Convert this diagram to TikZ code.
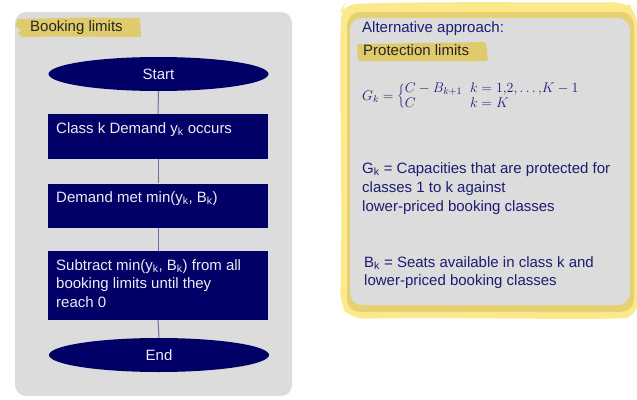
\documentclass[tikz,border=0pt]{standalone}
\usepackage{fix-cm}
\usepackage{fontspec}
\setmainfont{Liberation Sans}
\usetikzlibrary{shapes.geometric}
\definecolor{panelgray}{HTML}{DCDCDC}
\definecolor{navyfill}{HTML}{000066}
\definecolor{boxtextc}{HTML}{ECECF4}
\definecolor{linkc}{HTML}{6E6EA4}
\definecolor{hiyellow}{HTML}{DFCB6C}
\definecolor{lightyellow}{HTML}{FCE98C}
\definecolor{darkyellow}{HTML}{E6D072}
\definecolor{navytext}{HTML}{1C1C72}
\tikzset{
  flowbox/.style={draw=none, fill=navyfill, rectangle, minimum width=220pt, inner sep=0pt},
  terminal/.style={ellipse, fill=navyfill, minimum width=220pt, minimum height=34pt, inner sep=0pt, text=boxtextc, font=\fontsize{15}{18}\selectfont},
  boxtext/.style={anchor=base west, inner sep=0pt, text=boxtextc, font=\fontsize{15}{18}\selectfont},
  righttext/.style={anchor=base west, inner sep=0pt, text=navytext, font=\fontsize{15}{18}\selectfont},
  link/.style={draw=linkc, line width=1pt}
}
\begin{document}
\begin{tikzpicture}[x=1pt,y=-1pt]
\useasboundingbox (0,0) rectangle (637,399);
% left panel
\fill[panelgray, rounded corners=11pt] (15,12) rectangle (292,396);
% booking limits highlight
\fill[hiyellow] (18,19) -- (80,17.5) -- (140,18) -- (141,37) -- (60,36.5) -- (22,37) -- (18,33) -- (21,30) -- (15,26) -- cycle;
\node[anchor=base west, inner sep=0pt, text=black!85, font=\fontsize{15}{18}\selectfont] (bl) at (30,31.5) {Booking limits};
% flow nodes
\node[terminal] (start) at (158.5,74) {Start};
\node[flowbox, minimum height=45pt] (b1) at (158,136.5) {};
\node[flowbox, minimum height=44pt] (b2) at (158,205.5) {};
\node[flowbox, minimum height=69pt] (b3) at (158,285.5) {};
\node[terminal] (end) at (159,355) {End};
\draw[link] (start.south) -- (b1.north);
\draw[link] (b1.south) -- (b2.north);
\draw[link] (b2.south) -- (b3.north);
\draw[link] (b3.south) -- (end.north);
\node[boxtext] (t1) at (56,133) {Class k Demand y\textsubscript{k} occurs};
\node[boxtext] (t2) at (56,202) {Demand met min(y\textsubscript{k}, B\textsubscript{k})};
\node[boxtext] (t3a) at (56,270) {Subtract min(y\textsubscript{k}, B\textsubscript{k}) from all};
\node[boxtext] (t3b) at (56,288.5) {booking limits until they};
\node[boxtext] (t3c) at (56,307) {reach 0};
% right panel
\fill[lightyellow, rounded corners=14pt] (344,4) .. controls (450,1) and (560,3) .. (625,2) -- (637,10) -- (637,318) .. controls (560,320) and (450,317) .. (350,319) -- (340,305) .. controls (343,200) and (339,100) .. (341,10) -- cycle;
\fill[darkyellow, rounded corners=13pt] (347,12) rectangle (634,312);
\fill[panelgray, rounded corners=12pt] (350,18) rectangle (630,305);
\fill[hiyellow, rounded corners=2pt] (357,44) -- (486,42) -- (488,61) -- (358,61) -- cycle;
\node[righttext] (alt) at (362,32) {Alternative approach:};
\node[righttext, text=black!85] (prot) at (363,55) {Protection limits};
\node[anchor=west, inner sep=0pt, text=navytext, font=\fontsize{14}{15}\selectfont] (formula) at (362,96.5)
  {$G_k=\biggl\{\begin{array}{@{}l@{\ \;}l@{}} C-B_{k+1} & k=1{,}2{,}\ldots{,}K-1\\ C & k=K\end{array}$};
\node[righttext] (g1) at (362,173) {G\textsubscript{k} = Capacities that are protected for};
\node[righttext] (g2) at (362,192) {classes 1 to k against};
\node[righttext] (g3) at (362,211) {lower-priced booking classes};
\node[righttext] (s1) at (364,267) {B\textsubscript{k} = Seats available in class k and};
\node[righttext] (s2) at (364,285) {lower-priced booking classes};
\end{tikzpicture}
\end{document}
